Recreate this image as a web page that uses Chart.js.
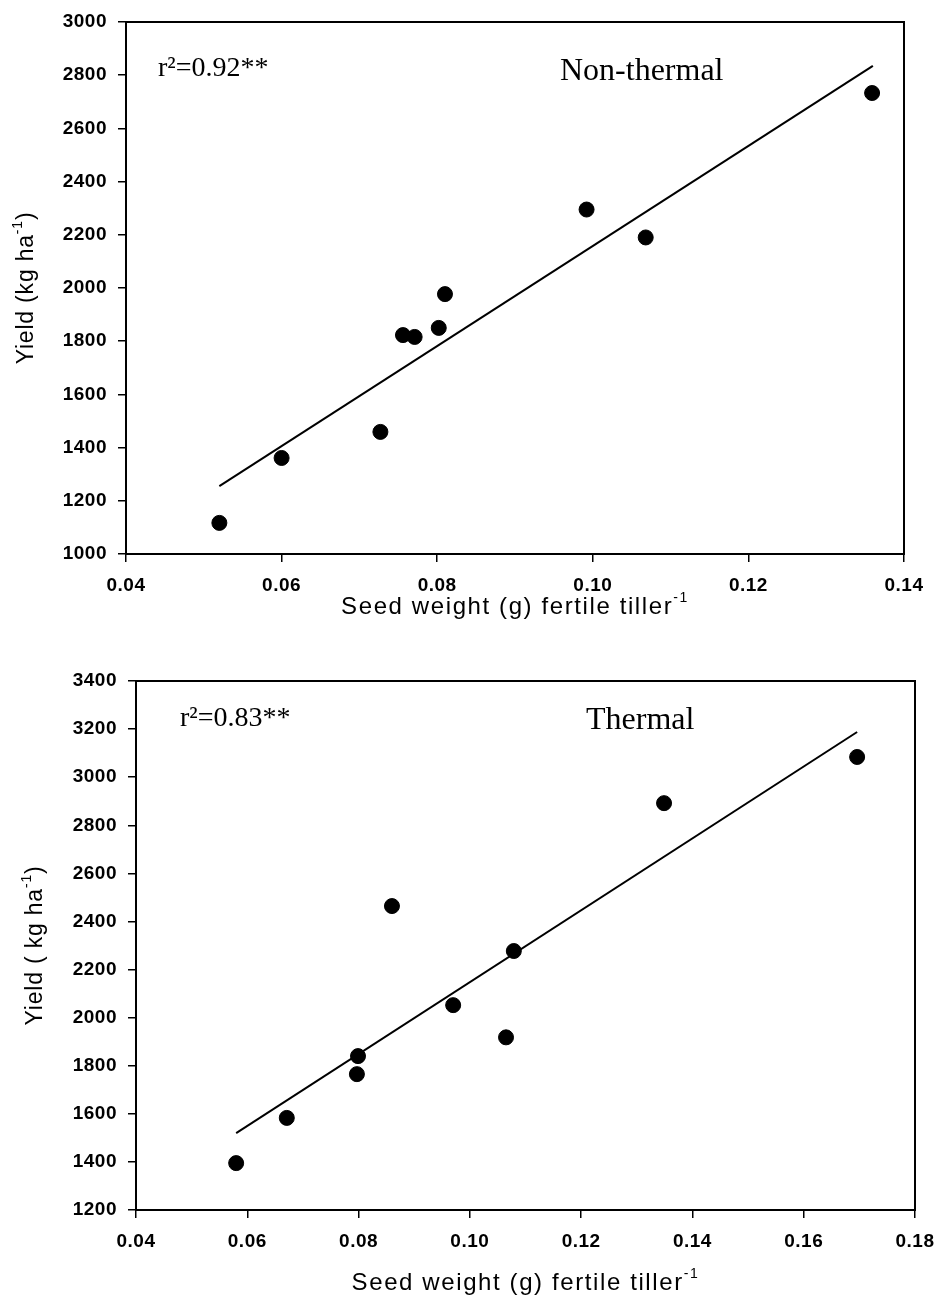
<!DOCTYPE html>
<html>
<head>
<meta charset="utf-8">
<script src="https://cdn.jsdelivr.net/npm/chart.js@4/dist/chart.umd.min.js"></script>
<style>
  html, body { margin: 0; padding: 0; background: #fff; }
  #wrap { position: relative; width: 940px; height: 1302px; }
  canvas { position: absolute; left: 0; }
  #top { top: 0; }
  #bottom { top: 640px; }
</style>
</head>
<body>
<div id="wrap">
  <canvas id="top" width="940" height="630"></canvas>
  <canvas id="bottom" width="940" height="662"></canvas>
</div>
<script>
// Non-thermal panel
const nonThermalSeed  = [0.0520, 0.0600, 0.0727, 0.0756, 0.0771, 0.0802, 0.0810, 0.0992, 0.1068, 0.1359];
const nonThermalYield = [1117, 1361, 1459, 1823, 1816, 1850, 1977, 2295, 2190, 2733];
const nonThermalFitX  = [0.052, 0.136];
const nonThermalFitY  = [1255, 2835];
const nonThermalXTicks = [0.04, 0.06, 0.08, 0.10, 0.12, 0.14];
const nonThermalYTicks = [1000, 1200, 1400, 1600, 1800, 2000, 2200, 2400, 2600, 2800, 3000];

// Thermal panel
const thermalSeed  = [0.0580, 0.0671, 0.0797, 0.0799, 0.0860, 0.0970, 0.1065, 0.1079, 0.1349, 0.1696];
const thermalYield = [1395, 1583, 1765, 1840, 2464, 2052, 1918, 2277, 2892, 3084];
const thermalFitX  = [0.058, 0.1696];
const thermalFitY  = [1520, 3188];
const thermalXTicks = [0.04, 0.06, 0.08, 0.10, 0.12, 0.14, 0.16, 0.18];
const thermalYTicks = [1200, 1400, 1600, 1800, 2000, 2200, 2400, 2600, 2800, 3000, 3200, 3400];

const toPts = (xs, ys) => xs.map((x, i) => ({ x: x, y: ys[i] }));

// draws a run of text pieces, some as superscripts, centred on (cx, cy)
function drawParts(ctx, parts, cx, cy, rot, size, spacing) {
  ctx.save();
  ctx.translate(cx, cy);
  ctx.rotate(rot);
  ctx.letterSpacing = spacing + 'px';
  ctx.fillStyle = '#000';
  ctx.textBaseline = 'middle';
  ctx.textAlign = 'left';
  let total = 0;
  parts.forEach(p => {
    ctx.font = (p.sup ? Math.round(size * 0.6) : size) + 'px "Liberation Sans", Arial, sans-serif';
    p.w = ctx.measureText(p.t).width;
    total += p.w;
  });
  let x = -total / 2;
  parts.forEach(p => {
    ctx.font = (p.sup ? Math.round(size * 0.6) : size) + 'px "Liberation Sans", Arial, sans-serif';
    ctx.fillText(p.t, x, p.sup ? -size * 0.38 : 0);
    x += p.w;
  });
  ctx.restore();
}

const framePlugin = {
  id: 'frame',
  beforeDraw(chart) {
    chart.ctx.letterSpacing = '0.5px';
  },
  afterDraw(chart, args, opts) {
    const ctx = chart.ctx;
    const a = chart.chartArea;
    ctx.save();
    ctx.letterSpacing = '0px';
    ctx.strokeStyle = '#000';
    ctx.lineWidth = 2;
    ctx.strokeRect(a.left, a.top, a.right - a.left, a.bottom - a.top);
    ctx.restore();

    drawParts(ctx, opts.xTitle, (a.left + a.right) / 2, opts.xTitleY, 0, 24, 1.6);
    drawParts(ctx, opts.yTitle, opts.yTitleX, (a.top + a.bottom) / 2, -Math.PI / 2, 23, 0.8);

    ctx.save();
    ctx.letterSpacing = '0px';
    ctx.fillStyle = '#000';
    ctx.textBaseline = 'alphabetic';
    ctx.font = '28px "Liberation Serif", "Times New Roman", serif';
    ctx.fillText(opts.rText, opts.rX, opts.rY);
    ctx.font = '32px "Liberation Serif", "Times New Roman", serif';
    ctx.fillText(opts.name, opts.nameX, opts.nameY);
    ctx.restore();
  }
};

function makeChart(id, cfg) {
  const h = document.getElementById(id).height;
  new Chart(document.getElementById(id), {
    type: 'scatter',
    data: {
      datasets: [
        {
          data: toPts(cfg.seed, cfg.yield),
          backgroundColor: '#000',
          borderColor: '#000',
          pointRadius: 7.5,
          pointHoverRadius: 7.5
        },
        {
          data: toPts(cfg.fitX, cfg.fitY),
          showLine: true,
          borderColor: '#000',
          borderWidth: 2,
          pointRadius: 0,
          fill: false
        }
      ]
    },
    options: {
      responsive: false,
      animation: false,
      devicePixelRatio: 1,
      layout: { padding: { top: cfg.top, right: 940 - cfg.right, left: 0, bottom: 0 } },
      plugins: {
        legend: { display: false },
        tooltip: { enabled: false },
        frame: cfg.frame
      },
      scales: {
        x: {
          type: 'linear',
          min: cfg.xTicks[0],
          max: cfg.xTicks[cfg.xTicks.length - 1],
          afterBuildTicks: s => { s.ticks = cfg.xTicks.map(v => ({ value: v })); },
          afterFit: s => { s.height = h - cfg.bottom; s.paddingLeft = 0; s.paddingRight = 0; },
          border: { display: false },
          grid: { drawOnChartArea: false, drawTicks: true, tickLength: 8, color: '#000', lineWidth: 1.5 },
          ticks: {
            padding: 12,
            maxRotation: 0,
            autoSkip: false,
            color: '#000',
            font: { family: '"Liberation Sans", Arial, sans-serif', size: 19, weight: 'bold' },
            callback: v => v.toFixed(2)
          }
        },
        y: {
          type: 'linear',
          min: cfg.yTicks[0],
          max: cfg.yTicks[cfg.yTicks.length - 1],
          afterBuildTicks: s => { s.ticks = cfg.yTicks.map(v => ({ value: v })); },
          afterFit: s => { s.width = cfg.left; s.paddingTop = 0; s.paddingBottom = 0; },
          border: { display: false },
          grid: { drawOnChartArea: false, drawTicks: true, tickLength: 8, color: '#000', lineWidth: 1.5 },
          ticks: {
            padding: 11,
            autoSkip: false,
            color: '#000',
            font: { family: '"Liberation Sans", Arial, sans-serif', size: 19, weight: 'bold' },
            callback: v => String(v)
          }
        }
      }
    },
    plugins: [framePlugin]
  });
}

makeChart('top', {
  seed: nonThermalSeed, yield: nonThermalYield,
  fitX: nonThermalFitX, fitY: nonThermalFitY,
  xTicks: nonThermalXTicks, yTicks: nonThermalYTicks,
  left: 126, right: 904, top: 22, bottom: 554,
  frame: {
    xTitle: [{ t: 'Seed weight (g) fertile tiller' }, { t: '-1', sup: true }],
    xTitleY: 607,
    yTitle: [{ t: 'Yield (kg ha' }, { t: '-1', sup: true }, { t: ')' }],
    yTitleX: 27,
    rText: 'r\u00B2=0.92**', rX: 158, rY: 76,
    name: 'Non-thermal', nameX: 560, nameY: 80
  }
});

makeChart('bottom', {
  seed: thermalSeed, yield: thermalYield,
  fitX: thermalFitX, fitY: thermalFitY,
  xTicks: thermalXTicks, yTicks: thermalYTicks,
  left: 136, right: 915, top: 41, bottom: 570,
  frame: {
    xTitle: [{ t: 'Seed weight (g) fertile tiller' }, { t: '-1', sup: true }],
    xTitleY: 643,
    yTitle: [{ t: 'Yield ( kg ha' }, { t: '-1', sup: true }, { t: ')' }],
    yTitleX: 36,
    rText: 'r\u00B2=0.83**', rX: 180, rY: 86,
    name: 'Thermal', nameX: 586, nameY: 89
  }
});
</script>
</body>
</html>
